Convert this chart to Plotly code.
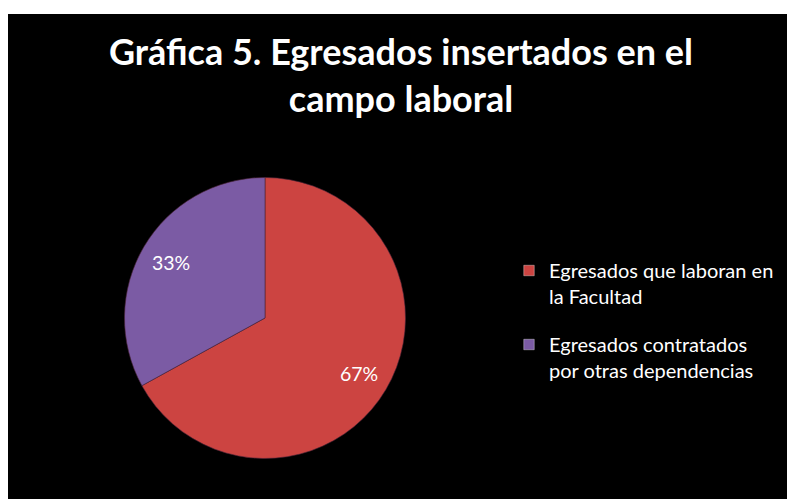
import math
import plotly.graph_objects as go

categories = ["Egresados que laboran en<br>la Facultad", "Egresados contratados<br>por otras dependencias"]
values = [67, 33]
colors = ["#cc4441", "#7b5ba4"]
title_text = "<b>Gráfica 5. Egresados insertados en el<br>campo laboral</b>"

W, H = 787, 499
FONT = "Lato"

# pie geometry (pixels)
cx, cy, R = 265, 318, 140.5
dom_x = [(cx - R) / W, (cx + R) / W]
dom_y = [1 - (cy + R) / H, 1 - (cy - R) / H]

fig = go.Figure()
fig.add_trace(go.Pie(
    labels=categories,
    values=values,
    sort=False,
    direction="clockwise",
    rotation=0,
    marker=dict(colors=colors, line=dict(color="#4a2438", width=0.6)),
    textinfo="none",
    hoverinfo="label+percent",
    domain=dict(x=dom_x, y=dom_y),
    showlegend=False,
))

# legend entries (one group per category so a gap can separate them)
for lab, col in zip(categories, colors):
    fig.add_trace(go.Scatter(
        x=[None], y=[None], mode="markers", name=lab, legendgroup=lab,
        marker=dict(symbol="square", size=10.5, color=col,
                    line=dict(color="rgba(255,255,255,0.35)", width=1)),
        hoverinfo="skip",
    ))

# percentage labels placed along each slice bisector
total = sum(values)
start = 0.0
annotations = []
for v in values:
    frac = v / total
    mid = (start + frac / 2) * 2 * math.pi
    start += frac
    r = 0.775 * R
    px = cx + r * math.sin(mid)
    py = cy - r * math.cos(mid)
    annotations.append(dict(
        x=px / W, y=1 - py / H, xref="paper", yref="paper",
        text=f"{round(frac * 100)}%", showarrow=False,
        font=dict(family=FONT, size=19.5, color="white"),
        xanchor="center", yanchor="middle",
    ))

annotations.append(dict(
    x=401 / W, y=1 - 27 / H, xref="paper", yref="paper",
    text=title_text, showarrow=False, align="center",
    xanchor="center", yanchor="top",
    font=dict(family=FONT, size=36, color="white"),
))

fig.update_layout(
    width=W, height=H,
    margin=dict(l=0, r=0, t=0, b=0),
    paper_bgcolor="white",
    plot_bgcolor="rgba(0,0,0,0)",
    xaxis=dict(visible=False),
    yaxis=dict(visible=False),
    shapes=[dict(type="rect", xref="paper", yref="paper",
                 x0=8 / W, x1=1, y0=0, y1=1 - 14 / H,
                 fillcolor="black", line=dict(width=0), layer="below")],
    annotations=annotations,
    legend=dict(
        x=509 / W, y=1 - 251 / H, xanchor="left", yanchor="top",
        font=dict(family=FONT, size=20, color="white"),
        bgcolor="rgba(0,0,0,0)",
        valign="top",
        tracegroupgap=19,
        itemclick=False, itemdoubleclick=False,
    ),
)

fig.write_html("out.html", config={"displayModeBar": False},
               post_script="document.body.style.margin='0';")
